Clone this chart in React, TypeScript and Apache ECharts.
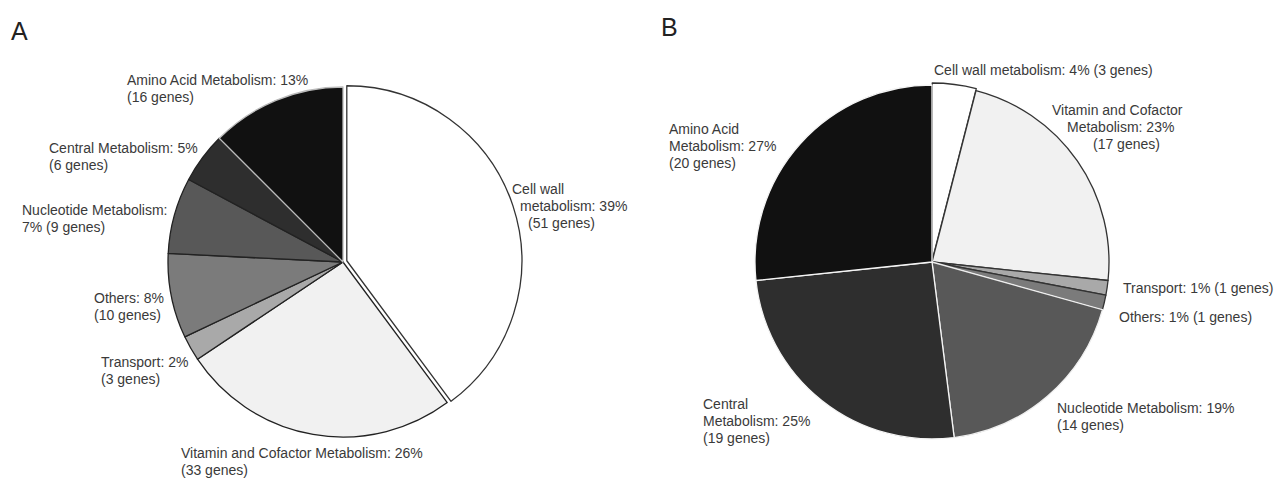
import React, { useEffect, useRef } from "react";
import * as echarts from "echarts";

// ---- data ----
const categories = [
  "Cell wall metabolism",
  "Vitamin and Cofactor Metabolism",
  "Transport",
  "Others",
  "Nucleotide Metabolism",
  "Central Metabolism",
  "Amino Acid Metabolism",
];
const genesA = [51, 33, 3, 10, 9, 6, 16];
const pctA = [39, 26, 2, 8, 7, 5, 13];
const genesB = [3, 17, 1, 1, 14, 19, 20];
const pctB = [4, 23, 1, 1, 19, 25, 27];
const panelLabels = ["A", "B"];

// ---- styles ----
const FONT = "'Liberation Sans', Arial, Helvetica, sans-serif";
const TXT = "#3a3a3a";
const FS = 14;
const LH = 17;
const fillColors = ["#ffffff", "#f1f1f1", "#a9a9a9", "#7b7b7b", "#585858", "#2e2e2e", "#111111"];
const bordersA = ["#333", "#222", "#222", "#222", "#222", "#222", "#bbbbbb"];
const bordersB = ["#333", "#333", "#333", "#333", "#eeeeee", "#f4f4f4", "#f4f4f4"];

// label layout: line-breaking mode, position, per-line indent
type Lay = { mode: string; x: number; y: number; indent?: number[] };
const layoutA: Lay[] = [
  { mode: "split3", x: 512, y: 206, indent: [0, 8, 16] },
  { mode: "two", x: 181, y: 461 },
  { mode: "two", x: 101, y: 370.5 },
  { mode: "two", x: 94, y: 306 },
  { mode: "nameBreak", x: 22, y: 218 },
  { mode: "two", x: 49, y: 156.5 },
  { mode: "two", x: 127, y: 88 },
];
const layoutB: Lay[] = [
  { mode: "one", x: 934, y: 70 },
  { mode: "split3", x: 1052, y: 127, indent: [0, 15, 41] },
  { mode: "one", x: 1123, y: 288 },
  { mode: "one", x: 1119, y: 317 },
  { mode: "two", x: 1057, y: 416 },
  { mode: "split3", x: 703, y: 421, indent: [0, 0, 0] },
  { mode: "split3", x: 669, y: 146, indent: [0, 0, 0] },
];

function buildText(name: string, pct: number, genes: number, lay: Lay): string {
  const g = `(${genes} genes)`;
  let lines: string[];
  if (lay.mode === "one") lines = [`${name}: ${pct}% ${g}`];
  else if (lay.mode === "two") lines = [`${name}: ${pct}%`, g];
  else if (lay.mode === "nameBreak") lines = [`${name}:`, `${pct}% ${g}`];
  else {
    const idx = name.toLowerCase().lastIndexOf(" metabolism");
    lines = [name.slice(0, idx), `${name.slice(idx + 1)}: ${pct}%`, g];
  }
  return lines.map((l, i) => `{l${(lay.indent && lay.indent[i]) || 0}|${l}}`).join("\n");
}

const RICH: any = {};
[0, 8, 15, 16, 41].forEach((p) => {
  RICH["l" + p] = {
    fontFamily: FONT,
    fontSize: FS,
    fill: TXT,
    color: TXT,
    lineHeight: LH,
    padding: [0, 0, 0, p],
  };
});

function labelGraphics(genes: number[], pct: number[], lay: Lay[]) {
  return genes.map((g, i) => ({
    type: "text",
    x: lay[i].x,
    y: lay[i].y,
    silent: true,
    style: {
      text: buildText(categories[i], pct[i], g, lay[i]),
      rich: RICH,
      fontFamily: FONT,
      fontSize: FS,
      fill: TXT,
      align: "left",
      verticalAlign: "middle",
    },
  }));
}

function makeSeries(genes: number[], borders: string[], center: number[], radius: number, selIdx: number, selOff: number) {
  return {
    type: "pie",
    center,
    radius,
    startAngle: 90,
    clockwise: true,
    avoidLabelOverlap: false,
    selectedMode: "single",
    selectedOffset: selOff,
    emphasis: { disabled: true },
    labelLine: { show: false },
    label: { show: false },
    data: genes.map((v, i) => ({
      name: categories[i],
      value: v,
      selected: i === selIdx,
      itemStyle: { color: fillColors[i], borderColor: borders[i], borderWidth: 1.3 },
    })),
  };
}

export default function App() {
  const ref = useRef<HTMLDivElement>(null);
  useEffect(() => {
    document.body.style.margin = "0";
    const chart = echarts.init(ref.current!, null, { renderer: "svg" });
    chart.setOption({
      animation: false,
      backgroundColor: "#ffffff",
      graphic: [
        { type: "text", left: 11, top: 18, style: { text: panelLabels[0], fontFamily: FONT, fontSize: 25, fill: "#222" } },
        { type: "text", left: 661, top: 14, style: { text: panelLabels[1], fontFamily: FONT, fontSize: 25, fill: "#222" } },
        ...labelGraphics(genesA, pctA, layoutA),
        ...labelGraphics(genesB, pctB, layoutB),
      ],
      series: [
        makeSeries(genesA, bordersA, [343, 262], 175, 0, 4),
        makeSeries(genesB, bordersB, [932, 262], 177, 0, 2),
      ],
    });
    return () => chart.dispose();
  }, []);
  return <div ref={ref} style={{ width: 1277, height: 478 }} />;
}
